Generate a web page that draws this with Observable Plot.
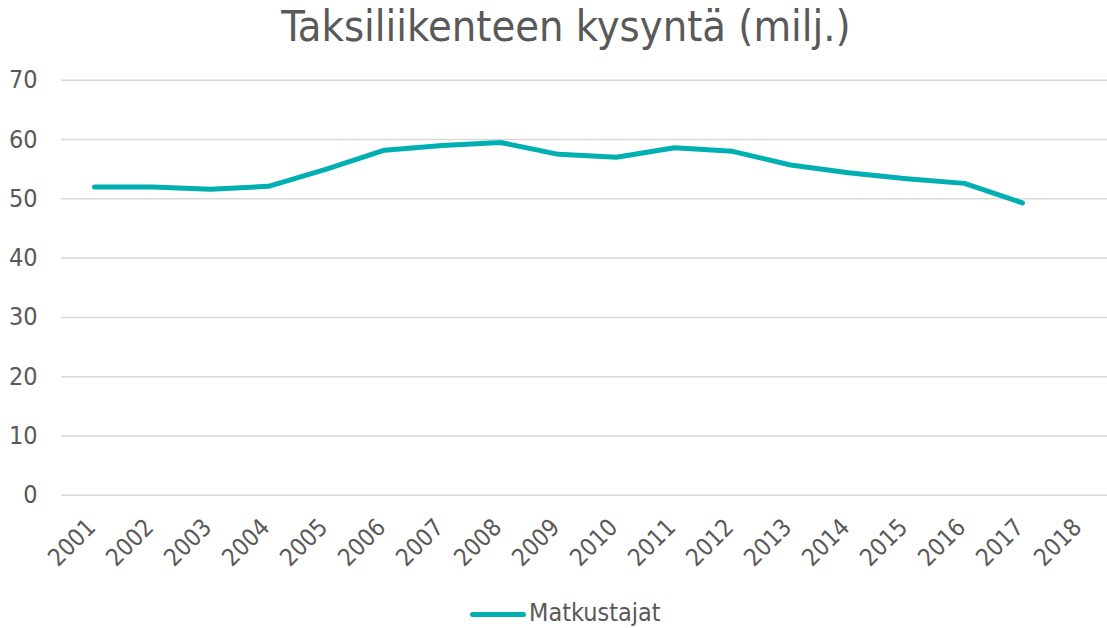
<!DOCTYPE html>
<html>
<head>
<meta charset="utf-8">
<script src="https://cdn.jsdelivr.net/npm/d3@7"></script>
<script src="https://cdn.jsdelivr.net/npm/@observablehq/plot@0.6"></script>
<style>
  body { margin: 0; background: #fff; width: 1107px; height: 628px; position: relative; overflow: hidden;
         font-family: "DejaVu Sans Condensed", "DejaVu Sans", sans-serif; font-stretch: condensed; color: #595959; }
  #title { height: 62px; line-height: 52px; font-size: 43px; text-align: center; padding-left: 25px; box-sizing: border-box; width: 1107px; }
  #chart svg { display: block; }
  #legend-swatch { position: absolute; left: 470px; top: 611.5px; width: 56px; height: 5px; border-radius: 3px; background: #00AFB2; }
  #legend-text { position: absolute; left: 529px; top: 598px; font-size: 25px; line-height: 30px; }
</style>
</head>
<body>
<div id="title">Taksiliikenteen kysyntä (milj.)</div>
<div id="chart"></div>
<div id="legend-swatch"></div>
<div id="legend-text">Matkustajat</div>
<script>
const years = ["2001","2002","2003","2004","2005","2006","2007","2008","2009","2010","2011","2012","2013","2014","2015","2016","2017","2018"];
const matkustajat = [52.0, 52.0, 51.6, 52.1, 55.0, 58.2, 59.0, 59.5, 57.5, 57.0, 58.6, 58.0, 55.7, 54.4, 53.4, 52.6, 49.3, null];
const yTicks = [0, 10, 20, 30, 40, 50, 60, 70];
const seriesName = "Matkustajat";

const data = years.map((y, i) => ({year: y, value: matkustajat[i], series: seriesName}));

const chart = Plot.plot({
  width: 1107,
  height: 520,
  marginLeft: 61,
  marginRight: 0,
  marginTop: 17.7,
  marginBottom: 87.2,
  style: {fontFamily: '"DejaVu Sans Condensed", "DejaVu Sans", sans-serif', fontStretch: "condensed", color: "#595959", background: "#fff"},
  x: {type: "point", domain: years, range: [90, 1084.5], padding: 0, label: null},
  y: {domain: [0, 70], range: [432.8, 17.7], label: null},
  marks: [
    Plot.ruleY(yTicks, {stroke: "#d9d9d9", strokeWidth: 1.5}),
    Plot.axisY({ticks: yTicks, tickSize: 0, tickPadding: 24, fontSize: 25, fill: "#595959", label: null}),
    Plot.axisX({tickSize: 0, tickRotate: -45, tickPadding: 28, dx: -3, fontSize: 24, fill: "#595959", label: null}),
    Plot.lineY(data, {x: "year", y: "value", stroke: "#00AFB2", strokeWidth: 5, strokeLinecap: "round", strokeLinejoin: "round"})
  ]
});
document.getElementById("chart").appendChild(chart);
</script>
</body>
</html>
